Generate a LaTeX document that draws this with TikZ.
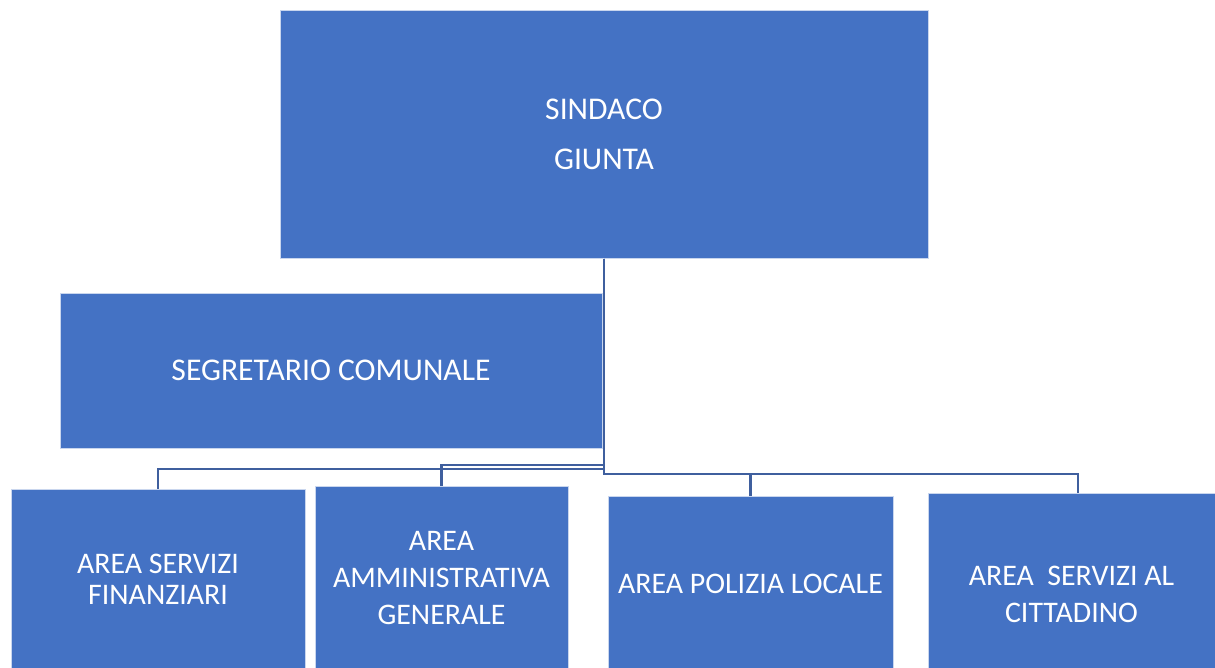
\documentclass[tikz,border=0pt]{standalone}
\usepackage{fontspec}
\setmainfont{Carlito}
\definecolor{boxblue}{HTML}{4472C4}
\definecolor{lineblue}{HTML}{3F5F9E}
\definecolor{edgeblue}{HTML}{C9D6EE}
\begin{document}
\begin{tikzpicture}[x=0.03cm, y=-0.03cm,
	box/.style={fill=boxblue, draw=edgeblue, line width=0.5pt, text=white, align=center, inner sep=0pt, font=\fontsize{27}{31}\selectfont},
	area/.style={box, font=\fontsize{25.5}{31.5}\selectfont},
	conn/.style={draw=lineblue, line width=2pt}]
	\useasboundingbox (0,0) rectangle (1215,667);

	\node[box, anchor=north, minimum width=19.44cm, minimum height=7.44cm] (sindaco) at (604,10) {SINDACO\\[11pt]GIUNTA};
	\node[box, anchor=north, minimum width=16.26cm, minimum height=4.65cm] (segretario) at (331,293) {SEGRETARIO COMUNALE};

	\node[area, anchor=north, minimum width=8.82cm, minimum height=5.4cm, font=\fontsize{25.5}{27}\selectfont] (finanziari) at (158,489) {AREA SERVIZI\\FINANZIARI};
	\node[area, anchor=north, minimum width=7.59cm, minimum height=5.52cm] (amministrativa) at (441.5,486) {AREA\\AMMINISTRATIVA\\GENERALE};
	\node[area, anchor=north, minimum width=8.55cm, minimum height=5.28cm] (polizia) at (750.5,496) {AREA POLIZIA LOCALE};
	\node[area, anchor=north, minimum width=8.61cm, minimum height=6.06cm] (cittadino) at (1071.5,493) {AREA\ \ SERVIZI AL\\CITTADINO};

	% raccordi
	\coordinate (jfin) at (158,469);
	\coordinate (jamm) at (441.5,465);
	\coordinate (jpol) at (750.5,474);
	\coordinate (jcit) at (1078,474);
	\draw[conn] (sindaco.south) |- (jfin) -- (finanziari.north);
	\draw[conn] (sindaco.south) |- (jamm) -- (amministrativa.north);
	\draw[conn] (sindaco.south) |- (jpol) -- (polizia.north);
	\draw[conn] (sindaco.south) |- (jcit) -- (jcit |- cittadino.north);
\end{tikzpicture}
\end{document}
